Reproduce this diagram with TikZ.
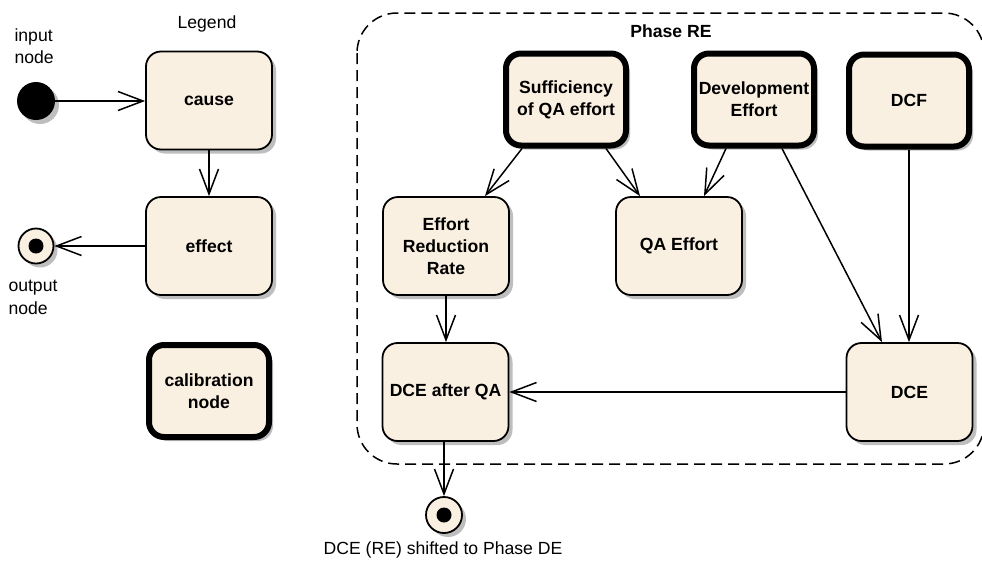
\documentclass[tikz,border=0pt]{standalone}
\usepackage{fontspec}
\setmainfont{Liberation Sans}
\usetikzlibrary{arrows.meta,shadows,calc}
\definecolor{boxfill}{RGB}{250,240,225}
\definecolor{shade}{RGB}{190,190,190}
\tikzset{
  txt/.style={font=\fontsize{17.6}{22.5}\selectfont},
  shd/.style={drop shadow={shadow xshift=4pt,shadow yshift=-4pt,fill=shade,opacity=1}},
  box/.style={txt,font=\fontsize{17.6}{22}\selectfont\bfseries,align=center,
    rectangle,rounded corners=15pt,draw,line width=1.8pt,fill=boxfill,
    minimum width=126pt,minimum height=98pt,inner sep=0pt,shd},
  calbox/.style={box,line width=6pt,minimum width=120pt,minimum height=92pt},
  conn/.style={line width=1.5pt,-{Straight Barb[length=25pt,width=19pt]}},
  innode/.style={circle,fill=black,minimum size=38pt,inner sep=0pt,shd},
  outnode/.style={circle,draw,line width=1.8pt,fill=boxfill,minimum size=35pt,inner sep=0pt,shd,
    path picture={\fill[black] (path picture bounding box.center) circle (7.5pt);}},
  group/.style={draw,line width=1.5pt,dash pattern=on 11pt off 6pt,rounded corners=40pt}
}
\begin{document}
\begin{tikzpicture}[x=1pt,y=-1pt]
\useasboundingbox[fill=white] (0,0) rectangle (982,563);

% phase frame
\draw[group] (357,13) rectangle (984,464);
\node[txt,font=\fontsize{17.6}{22}\selectfont\bfseries,anchor=base] (phase) at (671,37) {Phase RE};

% legend
\node[txt,anchor=base] (legend) at (207,28) {Legend};
\node[innode] (in) at (36,101) {};
\node[txt,align=left,anchor=north west] (inlbl) at (11,25) {input\\node};
\node[box] (cause) at (209,100.5) {cause};
\node[box] (effect) at (209,246) {effect};
\node[outnode] (out) at (36,246) {};
\node[txt,align=left,anchor=north west] (outlbl) at (5,277) {output\\node};
\node[calbox] (calib) at (209,391) {calibration\\node};

\draw[conn] (in.east) -- (in.east -| cause.west);
\draw[conn] (cause.south) -- (effect.north);
\draw[conn] (effect.west) -- (out.east);

% phase RE nodes
\node[calbox] (suff) at (566,99.5) {Sufficiency\\of QA effort};
\node[calbox] (dev) at (754,99.5) {Development\\Effort};
\node[calbox] (dcf) at (909,100.5) {DCF};
\node[box] (err) at (446,246) {Effort\\Reduction\\Rate};
\node[box] (qa) at (679,246) {QA Effort};
\node[box] (dceqa) at (445.5,392) {DCE after QA};
\node[box] (dce) at (909.5,392) {DCE};
\node[outnode,minimum size=36pt] (fin) at (444,515) {};
\node[txt,anchor=base] (finlbl) at (443,554) {DCE (RE) shifted to Phase DE};

\draw[conn] ([xshift=-44pt]suff.south) -- ([xshift=39pt]err.north);
\draw[conn] ([xshift=40pt]suff.south) -- ([xshift=-39pt]qa.north);
\draw[conn] ([xshift=-28pt]dev.south) -- ([xshift=25pt]qa.north);
\draw[conn] ([xshift=28pt]dev.south) -- ([xshift=-27.5pt]dce.north);
\draw[conn] (dcf.south) -- (dcf.south |- dce.north);
\draw[conn] (err.south) -- (err.south |- dceqa.north);
\draw[conn] (dce.west) -- (dceqa.east);
\draw[conn] (dceqa.south -| fin.north) -- (fin.north);
\end{tikzpicture}
\end{document}
